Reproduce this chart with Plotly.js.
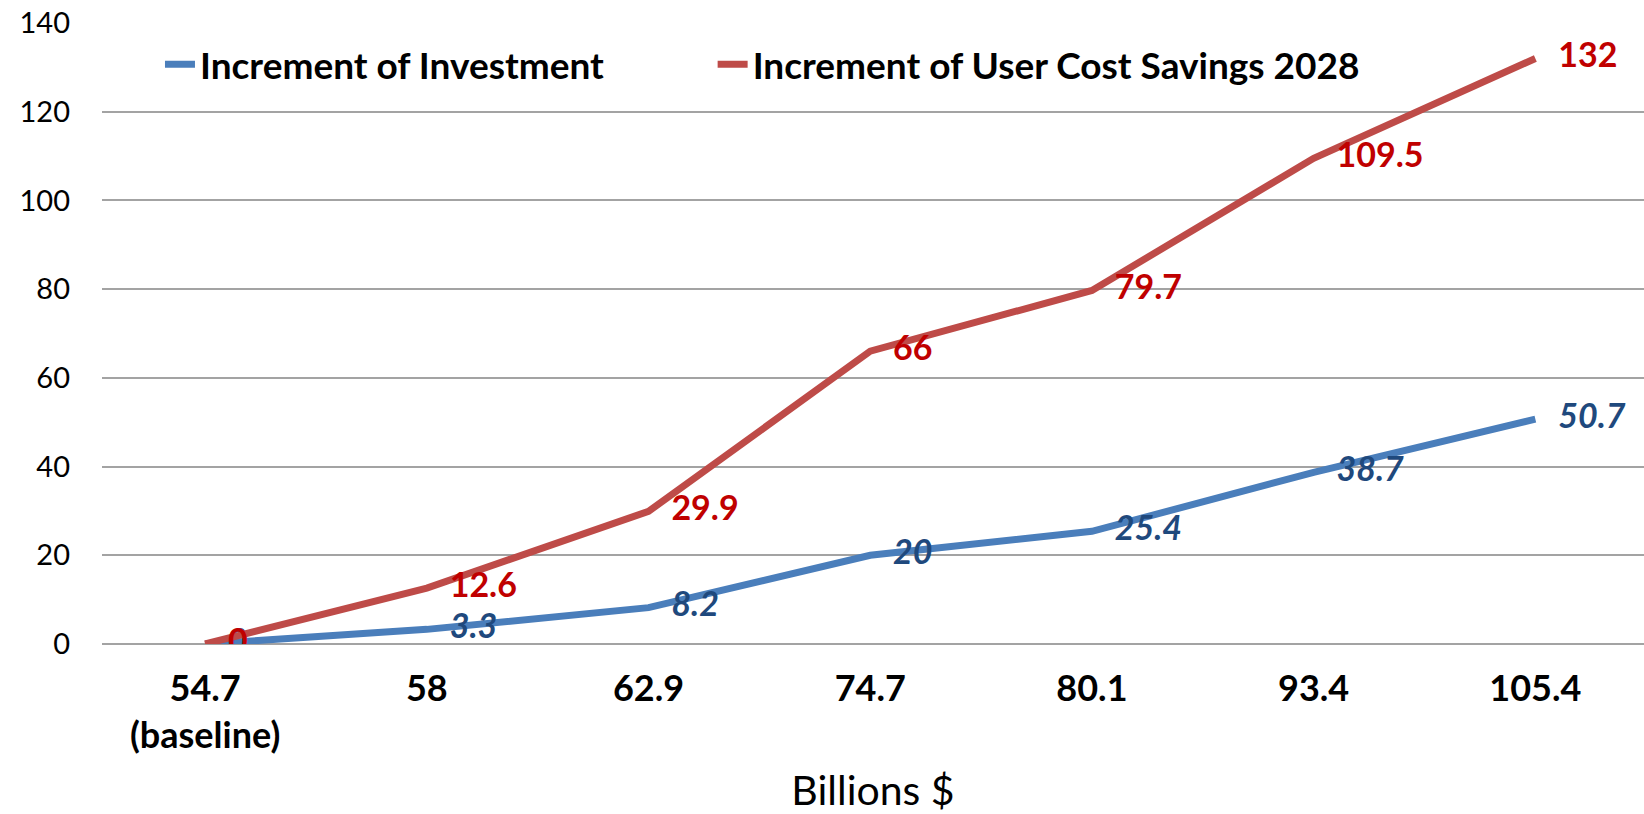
<!DOCTYPE html>
<html>
<head>
<meta charset="utf-8">
<script src="https://cdn.plot.ly/plotly-3.0.1.min.js"></script>
<style>
  html, body { margin: 0; padding: 0; background: #ffffff; }
  #chart { width: 1644px; height: 814px; }
</style>
</head>
<body>
<div id="chart"></div>
<script>
// ---- Data ----
var categories = ["54.7<br>(baseline)", "58", "62.9", "74.7", "80.1", "93.4", "105.4"];
var investmentIncrement = [0, 3.3, 8.2, 20, 25.4, 38.7, 50.7];
var userCostSavings2028 = [0, 12.6, 29.9, 66, 79.7, 109.5, 132];
var seriesNames = ["Increment of Investment", "Increment of User Cost Savings 2028"];
var yTickValues = [0, 20, 40, 60, 80, 100, 120, 140];
var xAxisTitle = "Billions $";

var FONT = "Lato, 'Open Sans', 'Noto Sans', sans-serif";
var CLEAR = "rgba(0,0,0,0)";

var traces = [
  {
    type: "scatter",
    mode: "lines+markers+text",
    name: seriesNames[0],
    legend: "legend",
    x: categories,
    y: investmentIncrement,
    text: investmentIncrement.map(String),
    textposition: "middle right",
    textfont: { family: FONT, size: 34, color: "#1F497D", weight: 700, style: "italic" },
    line: { color: "#4A7EBB", width: 7 },
    marker: { size: 35, opacity: 0, color: CLEAR, line: { width: 0 } },
    hoverinfo: "skip"
  },
  {
    type: "scatter",
    mode: "lines+markers+text",
    name: seriesNames[1],
    legend: "legend2",
    x: categories,
    y: userCostSavings2028,
    text: userCostSavings2028.map(String),
    textposition: "middle right",
    textfont: { family: FONT, size: 34, color: "#C00000", weight: 700 },
    line: { color: "#BE4B48", width: 7 },
    marker: { size: 35, opacity: 0, color: CLEAR, line: { width: 0 } },
    hoverinfo: "skip"
  }
];

function legendAt(xPaper) {
  return {
    orientation: "h",
    x: xPaper,
    xanchor: "left",
    y: 0.933,
    yanchor: "middle",
    bgcolor: CLEAR,
    borderwidth: 0,
    font: { family: FONT, size: 37, color: "#000000", weight: 700 }
  };
}

var layout = {
  width: 1644,
  height: 814,
  paper_bgcolor: "#ffffff",
  plot_bgcolor: "#ffffff",
  margin: { l: 102, r: 0, t: 23, b: 170, pad: 0 },
  showlegend: true,
  legend: legendAt(0.0376),
  legend2: legendAt(0.396),
  xaxis: {
    type: "category",
    range: [-0.465, 6.49],
    showgrid: false,
    zeroline: false,
    showline: false,
    ticks: "",
    ticklabelstandoff: 20,
    tickfont: { family: FONT, size: 36, color: "#000000", weight: 700 },
    automargin: false,
    fixedrange: true,
    title: {
      text: xAxisTitle,
      font: { family: FONT, size: 41, color: "#000000" },
      standoff: 26
    }
  },
  yaxis: {
    range: [0, 140],
    tickvals: yTickValues,
    ticktext: yTickValues.map(String),
    showgrid: true,
    gridcolor: "#A3A3A3",
    gridwidth: 2,
    zeroline: true,
    zerolinecolor: "#A3A3A3",
    zerolinewidth: 2,
    showline: false,
    ticks: "",
    ticklabelstandoff: 31,
    tickfont: { family: FONT, size: 29, color: "#000000" },
    automargin: false,
    fixedrange: true
  }
};

Plotly.newPlot("chart", traces, layout, { displayModeBar: false, staticPlot: true });
</script>
</body>
</html>
